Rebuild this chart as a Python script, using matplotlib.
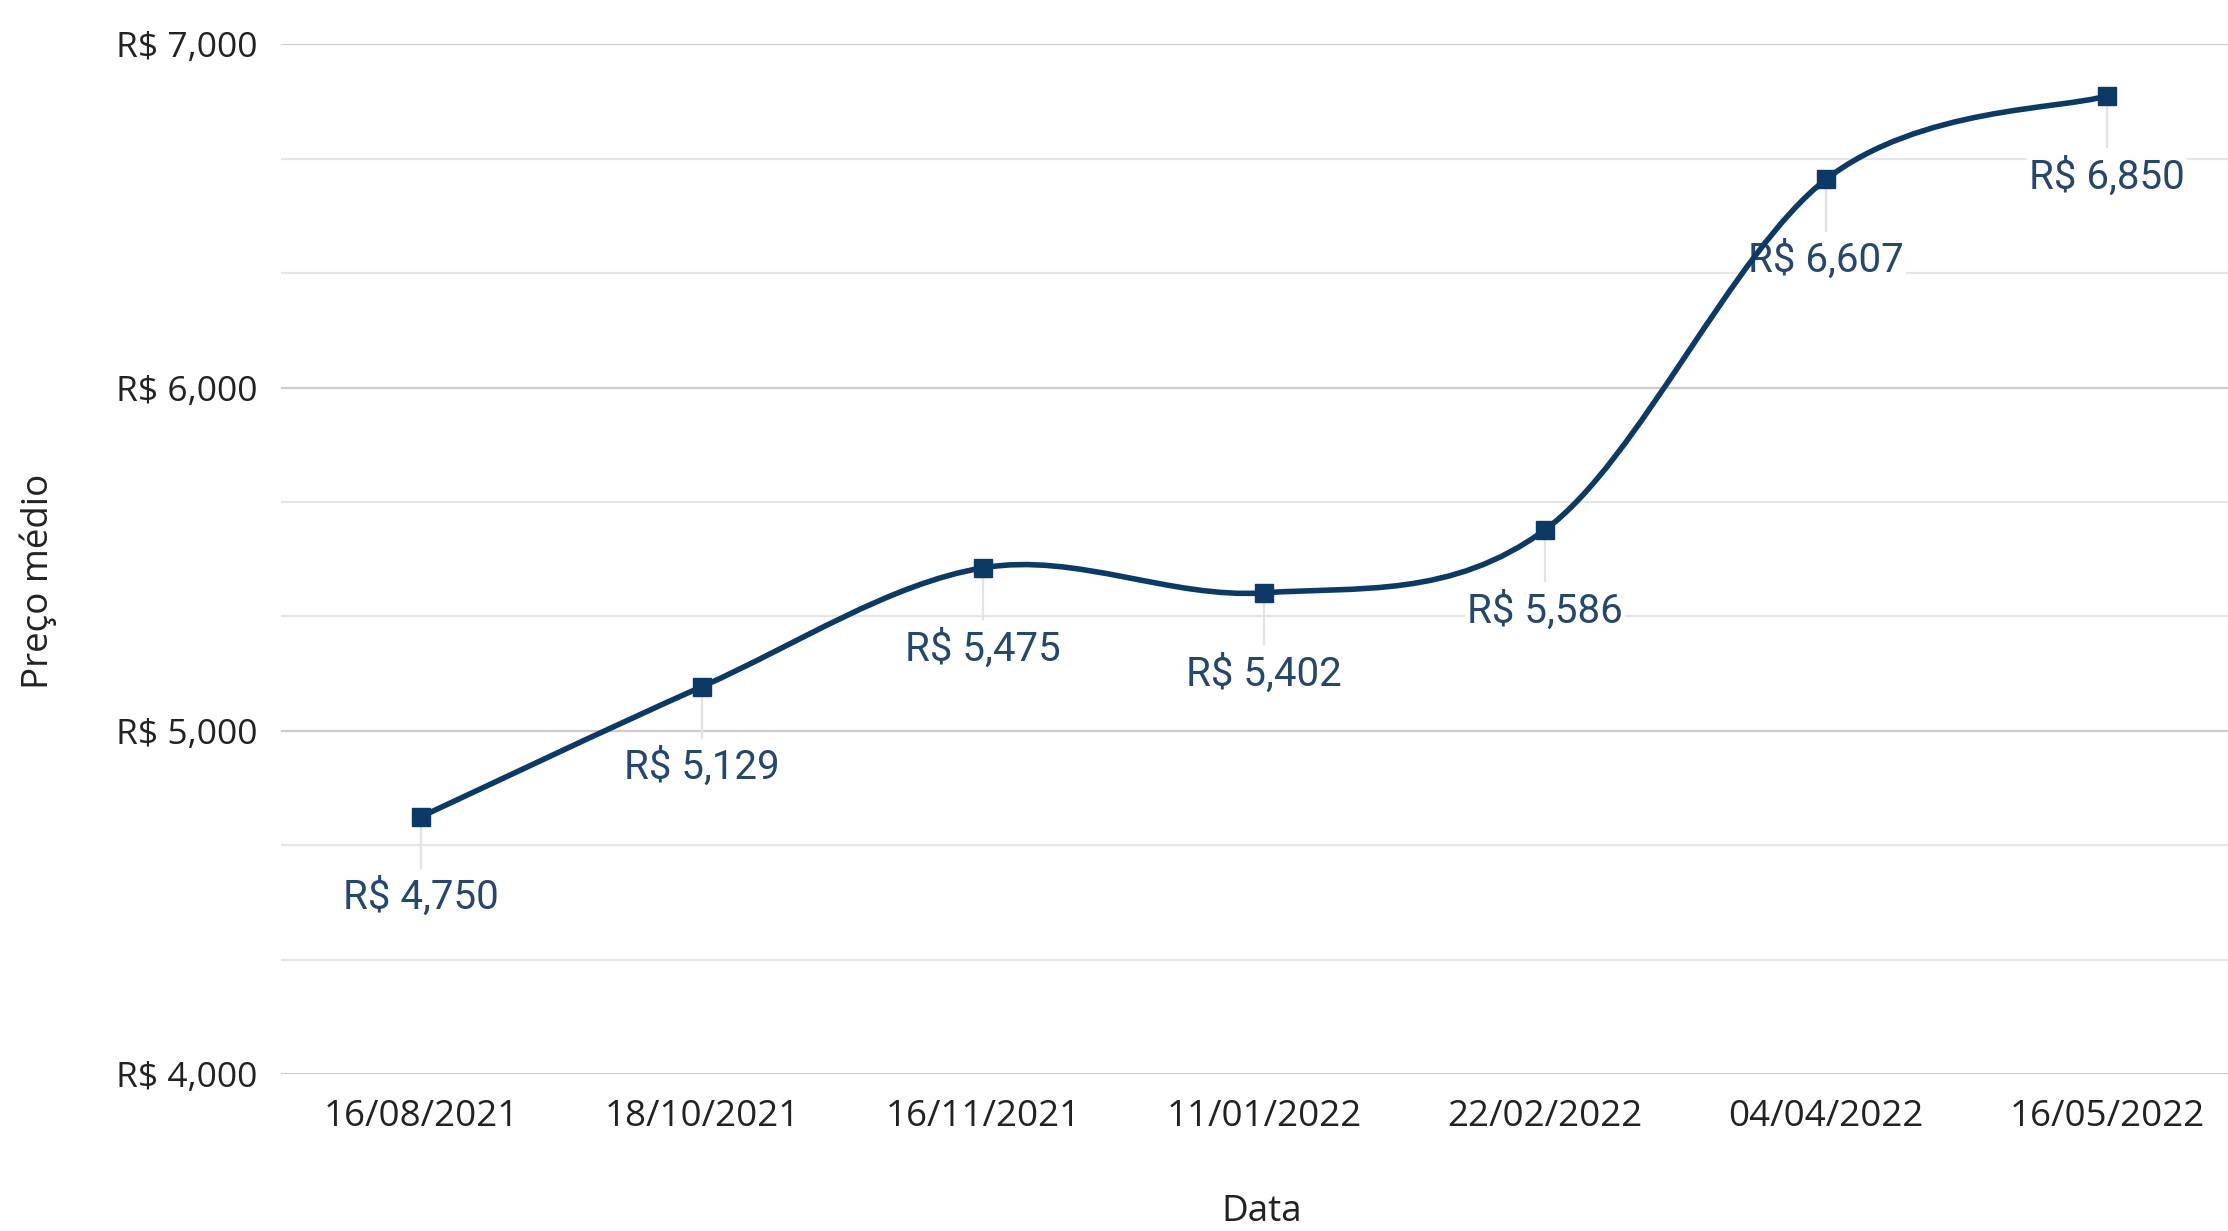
import numpy as np
import matplotlib.pyplot as plt
from matplotlib.path import Path
from matplotlib.patches import PathPatch
from matplotlib.ticker import FuncFormatter, MultipleLocator

datas = ["16/08/2021", "18/10/2021", "16/11/2021", "11/01/2022",
         "22/02/2022", "04/04/2022", "16/05/2022"]
precos = [4750, 5129, 5475, 5402, 5586, 6607, 6850]

linha_cor = "#0b3a67"
texto_cor = "#23476f"

fig = plt.figure(figsize=(22.28, 12.31), dpi=100)
ax = fig.add_axes([0.126, 0.1275, 0.874, 0.8365])

x = np.arange(len(precos), dtype=float)
y = np.array(precos, dtype=float)

# curva suave (catmull-rom convertida em bezier)
px = np.concatenate([[x[0]], x, [x[-1]]])
py = np.concatenate([[y[0]], y, [y[-1]]])
verts = [(x[0], y[0])]
codes = [Path.MOVETO]
for i in range(1, len(px) - 2):
    c1 = (px[i] + (px[i + 1] - px[i - 1]) / 6, py[i] + (py[i + 1] - py[i - 1]) / 6)
    c2 = (px[i + 1] - (px[i + 2] - px[i]) / 6, py[i + 1] - (py[i + 2] - py[i]) / 6)
    verts += [c1, c2, (px[i + 1], py[i + 1])]
    codes += [Path.CURVE4] * 3
ax.add_patch(PathPatch(Path(verts, codes), fill=False, edgecolor=linha_cor,
                       lw=4, zorder=4, capstyle="round"))

# linhas guia e rótulos
for xi, yi in zip(x, y):
    ax.plot([xi, xi], [yi, yi - 150], color="#e3e3e3", lw=1.6, zorder=2)
    ax.annotate(f"R$ {int(yi):,}", (xi, yi), xytext=(0, -58), textcoords="offset points",
                ha="center", va="center", fontsize=29, color=texto_cor,
                family=["Roboto", "DejaVu Sans"], zorder=3,
                bbox=dict(boxstyle="square,pad=0.05", fc="white", ec="none"))

ax.plot(x, y, ls="none", marker="s", ms=13, color=linha_cor, zorder=5)

ax.set_xlim(-0.5, 6.43)
ax.set_ylim(4000, 7000)
ax.yaxis.set_major_locator(MultipleLocator(1000))
ax.yaxis.set_minor_locator(MultipleLocator(1000 / 3))
ax.yaxis.set_major_formatter(FuncFormatter(lambda v, p: f"R$ {int(v):,}"))
ax.set_xticks(x)
ax.set_xticklabels(datas)
ax.grid(axis="y", which="major", color="#cccccc", lw=1.6)
ax.grid(axis="y", which="minor", color="#e6e6e6", lw=1.6)
ax.set_axisbelow(True)
for s in ax.spines.values():
    s.set_visible(False)
ax.tick_params(axis="both", which="both", length=0, labelsize=26.5, colors="#222222")
ax.tick_params(axis="y", pad=17, labelsize=25.5)
ax.tick_params(axis="x", pad=18)
for lab in ax.get_xticklabels() + ax.get_yticklabels():
    lab.set_family(["Open Sans", "DejaVu Sans"])

fig.text(0.5665, 0.001, "Data", ha="center", va="bottom", fontsize=26.5,
         color="#222222", family=["Open Sans", "DejaVu Sans"])
fig.text(0.017, 0.528, "Preço médio", ha="center", va="center", rotation=90,
         fontsize=26.5, color="#222222", family=["Open Sans", "DejaVu Sans"])

fig.savefig("out.png", dpi=100)
